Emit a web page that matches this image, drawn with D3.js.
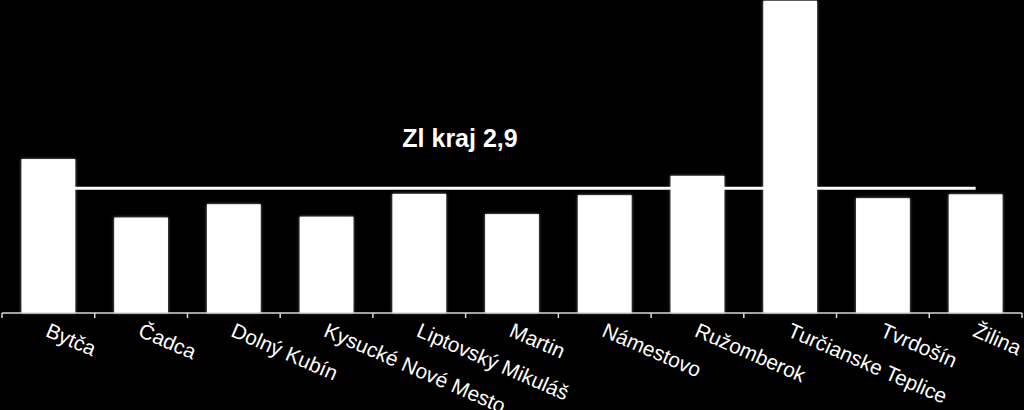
<!DOCTYPE html>
<html>
<head>
<meta charset="utf-8">
<script src="https://cdn.jsdelivr.net/npm/d3@7"></script>
<style>
  html, body { margin: 0; padding: 0; background: #000; }
  svg { display: block; }
</style>
</head>
<body>
<svg id="chart" width="1024" height="410"></svg>
<script>
const categories = ["Bytča", "Čadca", "Dolný Kubín", "Kysucké Nové Mesto", "Liptovský Mikuláš",
  "Martin", "Námestovo", "Ružomberok", "Turčianske Teplice", "Tvrdošín", "Žilina"];
const values = [3.58, 2.22, 2.53, 2.24, 2.77, 2.30, 2.74, 3.19, 7.26, 2.67, 2.76];
const regionAvg = 2.9;
const regionLabel = "Zl kraj 2,9";

const W = 1024, H = 410;
const svg = d3.select("#chart");

const x = d3.scaleBand().domain(categories).range([2, 1022]).paddingInner(0.42).paddingOuter(0.21);
const y = d3.scaleLinear().domain([0, 8]).range([313, 313 - 8 * 43]);

const defs = svg.append("defs");
const glow = defs.append("filter").attr("id", "glow").attr("x", "-20%").attr("y", "-20%").attr("width", "140%").attr("height", "140%");
glow.append("feGaussianBlur").attr("in", "SourceAlpha").attr("stdDeviation", 1.8).attr("result", "b");
glow.append("feFlood").attr("flood-color", "#fff").attr("flood-opacity", 0.55).attr("result", "c");
glow.append("feComposite").attr("in", "c").attr("in2", "b").attr("operator", "in").attr("result", "g");
const m = glow.append("feMerge");
m.append("feMergeNode").attr("in", "g");
m.append("feMergeNode").attr("in", "SourceGraphic");

// average line (behind bars)
const cx = d => x(d) + x.bandwidth() / 2;
svg.append("line")
  .attr("x1", cx(categories[0]))
  .attr("x2", cx(categories[categories.length - 1]))
  .attr("y1", y(regionAvg)).attr("y2", y(regionAvg))
  .attr("stroke", "#fff").attr("stroke-width", 3);

// bars
svg.append("g").selectAll("rect").data(values).join("rect")
  .attr("x", (d, i) => x(categories[i]))
  .attr("width", x.bandwidth())
  .attr("y", d => y(d))
  .attr("height", d => y(0) - y(d))
  .attr("fill", "#fff")
  .attr("filter", "url(#glow)");

// axis
const axis = d3.axisBottom(x).tickSize(0).tickFormat("");
const gAxis = svg.append("g").attr("transform", `translate(0,${y(0)})`).call(axis);
gAxis.select(".domain").attr("stroke", "#d9d9d9").attr("stroke-width", 1.5).attr("d", `M2,0H1022`);
// tick marks at category boundaries
const bounds = d3.range(categories.length + 1).map(i => 2 + i * x.step());
svg.append("g").selectAll("line").data(bounds).join("line")
  .attr("x1", d => d).attr("x2", d => d)
  .attr("y1", y(0)).attr("y2", y(0) + 5)
  .attr("stroke", "#d9d9d9").attr("stroke-width", 1.5);

// category labels
svg.append("g").selectAll("text").data(categories).join("text")
  .attr("transform", d => `translate(${cx(d) + 2},${y(0) + 9}) rotate(23.5)`)
  .attr("dy", "0.72em")
  .attr("fill", "#fff")
  .attr("font-family", "'Liberation Sans', Arial, sans-serif")
  .attr("font-size", 20.8)
  .text(d => d);

// average label
svg.append("text")
  .attr("x", 460)
  .attr("y", y(regionAvg) - 41)
  .attr("text-anchor", "middle")
  .attr("fill", "#fff")
  .attr("font-family", "'Liberation Sans', Arial, sans-serif")
  .attr("font-weight", "bold")
  .attr("font-size", 25)
  .text(regionLabel);
</script>
</body>
</html>
